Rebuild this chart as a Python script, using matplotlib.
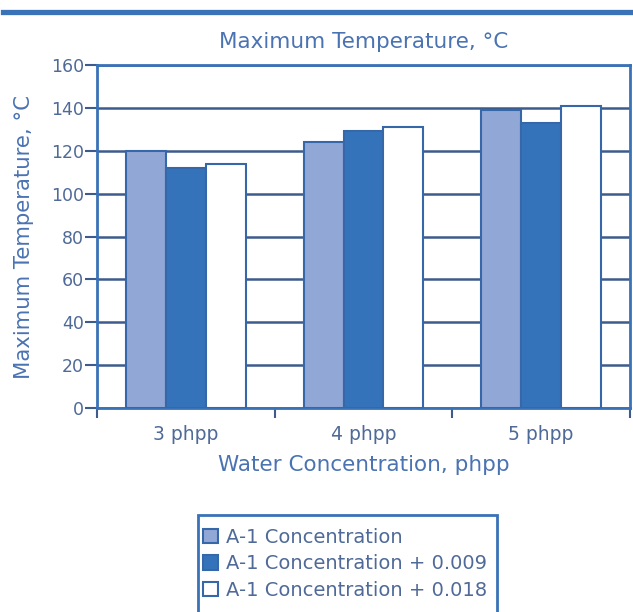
import matplotlib
matplotlib.use("Agg")
import matplotlib.pyplot as plt
import numpy as np
from matplotlib.lines import Line2D
from matplotlib.patches import Rectangle

categories = ["3 phpp", "4 phpp", "5 phpp"]
series_names = ["A-1 Concentration", "A-1 Concentration + 0.009", "A-1 Concentration + 0.018"]
a1 = [120, 124, 139]
a1_009 = [112, 129, 133]
a1_018 = [114, 131, 141]
yticks = [0, 20, 40, 60, 80, 100, 120, 140, 160]

blue = "#3a72b8"
grid_c = "#3d5b8c"
text_c = "#4f6a98"
title_c = "#4a73b2"
colors = ["#91a7d6", "#3473ba", "#ffffff"]
edge_c = "#3567a9"

plt.rcParams['font.family'] = ['DejaVu Sans']

fig = plt.figure(figsize=(6.33, 6.12), dpi=100)
ax = fig.add_axes([0.1532, 0.3333, 0.8421, 0.5605])

x = np.arange(len(categories))
w = 0.225
for i, vals in enumerate([a1, a1_009, a1_018]):
    ax.bar(x + (i - 1) * w, vals, width=w, color=colors[i], edgecolor=edge_c,
           linewidth=1.5, label=series_names[i], zorder=3)

ax.set_xlim(-0.5, 2.5)
ax.set_ylim(0, 160)
ax.set_yticks(yticks)
ax.set_yticklabels([str(t) for t in yticks], color=text_c, fontsize=12.5)
ax.set_xticks(x)
ax.set_xticklabels(categories, color=text_c, fontsize=13.5)
ax.tick_params(axis='x', length=0, pad=12)
ax.tick_params(axis='y', length=8.5, width=1.5, color=grid_c, pad=1)
# category boundary ticks
ax.set_xticks([-0.5, 0.5, 1.5, 2.5], minor=True)
ax.tick_params(axis='x', which='minor', length=7, width=1.5, color=grid_c, direction='out')

ax.yaxis.grid(True, color=grid_c, linewidth=1.8, zorder=0)
ax.set_axisbelow(True)
for s in ax.spines.values():
    s.set_color(blue)
    s.set_linewidth(2)

ax.set_title("Maximum Temperature, °C", color=title_c, fontsize=15.5, pad=12)
ax.set_ylabel("Maximum Temperature, °C", color=title_c, fontsize=15.3, labelpad=12)
ax.set_xlabel("Water Concentration, phpp", color=title_c, fontsize=15.5, labelpad=8)

# top decorative line
fig.add_artist(Line2D([0.005, 1.0], [0.9796, 0.9796], transform=fig.transFigure,
                      color=blue, linewidth=3.8))

# legend frame (bottom runs off the figure)
fig.add_artist(Rectangle((198 / 633, -0.05), 299 / 633, 0.05 + (1 - 515 / 612),
                         transform=fig.transFigure, facecolor='white',
                         edgecolor=blue, linewidth=2, zorder=1))

leg = fig.legend(loc='upper left', bbox_to_anchor=(203 / 633, 1 - 528 / 612), frameon=False,
                 fontsize=14, handlelength=0.75, handleheight=0.75, handletextpad=0.45,
                 borderpad=0, labelspacing=0.38, borderaxespad=0)
leg.set_zorder(2)
for t in leg.get_texts():
    t.set_color(text_c)

fig.savefig("out.png", dpi=100)
